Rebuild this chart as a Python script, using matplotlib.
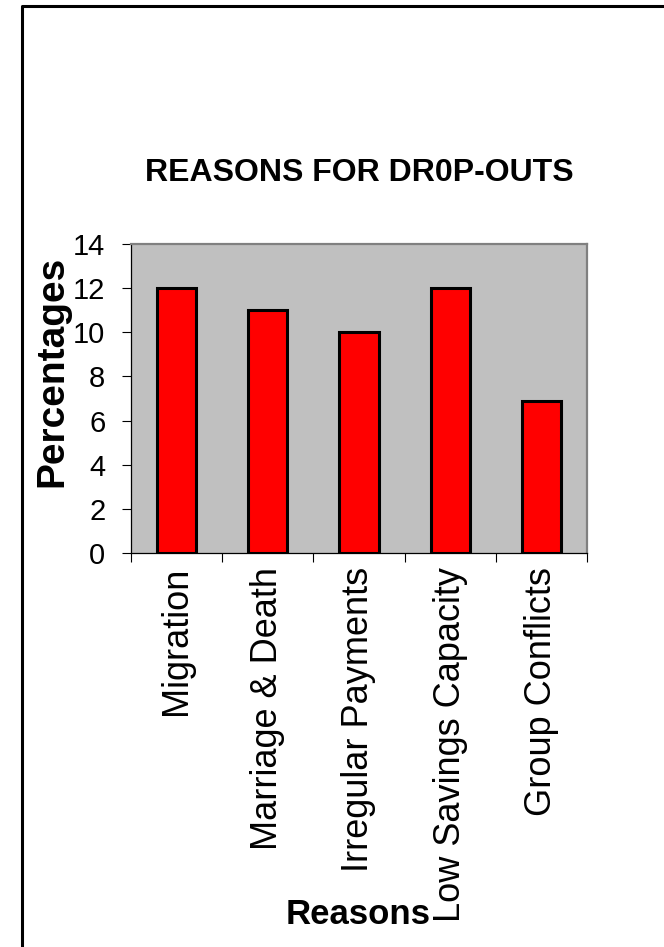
import matplotlib
matplotlib.use("Agg")
import matplotlib.pyplot as plt
from matplotlib.lines import Line2D
import numpy as np

plt.rcParams['font.family'] = ['Liberation Sans', 'DejaVu Sans']

# chart data
reasons = ["Migration", "Marriage & Death", "Irregular Payments",
           "Low Savings Capacity", "Group Conflicts"]
percentages = [12, 11, 10, 12, 6.9]
yticks = [0, 2, 4, 6, 8, 10, 12, 14]

W, H = 664, 947
fig = plt.figure(figsize=(W / 100, H / 100), dpi=100)
ax = fig.add_axes([131 / W, 1 - 553 / H, (587 - 131) / W, (553 - 244) / H])
ax.set_facecolor("#C0C0C0")

x = np.arange(len(reasons))
ax.bar(x, percentages, width=0.43, color="#FF0000", edgecolor="black",
       linewidth=2.2, zorder=3)

ax.set_xlim(-0.5, len(reasons) - 0.5)
ax.set_ylim(0, 14)
ax.set_yticks(yticks)
ax.tick_params(axis="y", direction="out", length=6.5, width=0.8,
               labelsize=21, pad=12)

# category labels between boundary ticks
ax.set_xticks(x)
ax.set_xticklabels(reasons, rotation=90, fontsize=26, va="top")
ax.tick_params(axis="x", which="major", length=0, pad=10)
ax.set_xticks(np.arange(-0.5, len(reasons), 1.0), minor=True)
ax.tick_params(axis="x", which="minor", direction="out", length=6.5, width=0.8)

for s in ["left", "bottom"]:
    ax.spines[s].set_color("black")
    ax.spines[s].set_linewidth(0.9)
for s in ["top", "right"]:
    ax.spines[s].set_color("#808080")
    ax.spines[s].set_linewidth(1.6)

fig.text(359 / W, 1 - 173 / H, "REASONS FOR DR0P-OUTS", fontsize=23,
         fontweight="bold", ha="center", va="center")
fig.text(52 / W, 1 - 371 / H, "Percentages", fontsize=28, fontweight="bold",
         rotation=90, ha="center", va="center")
fig.text(358 / W, 1 - 914 / H, "Reasons", fontsize=25, fontweight="bold",
         ha="center", va="center")

# outer frame (top and left edges visible)
fig.add_artist(Line2D([21.5 / W, 21.5 / W, 1.0], [0.0, 1 - 6.5 / H, 1 - 6.5 / H],
                      transform=fig.transFigure, color="black", linewidth=2.2))

fig.savefig("out.png", dpi=100)
